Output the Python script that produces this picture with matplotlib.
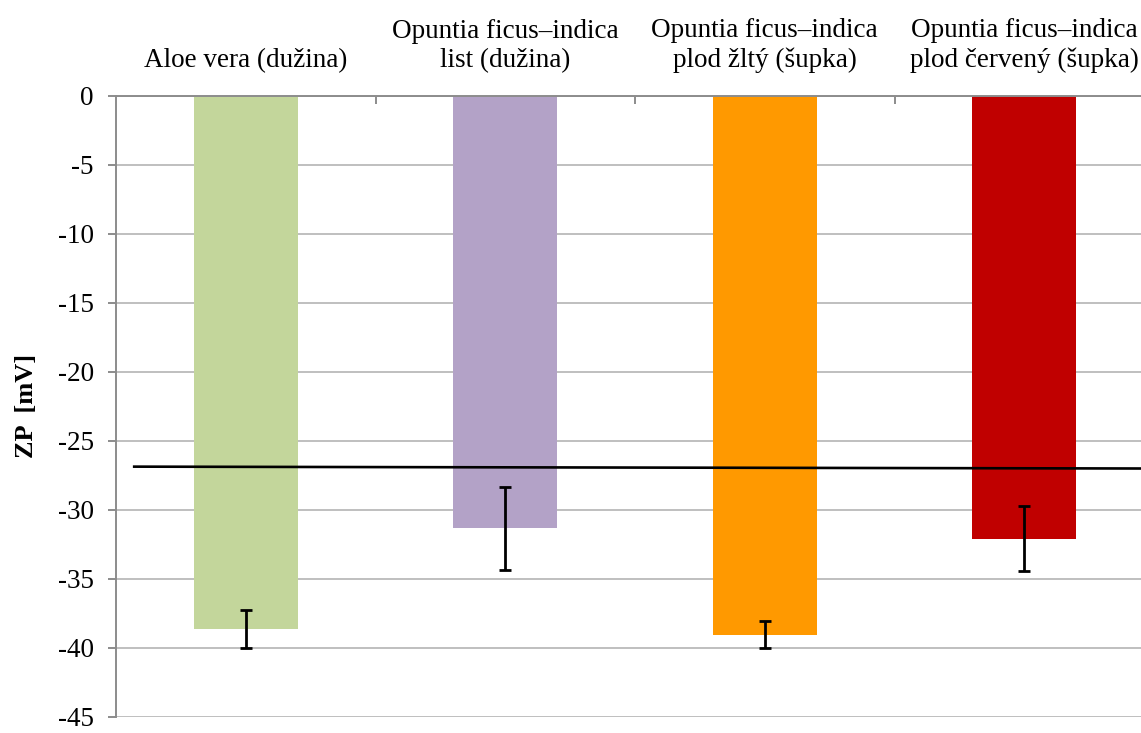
import matplotlib.pyplot as plt
import numpy as np

plt.rcParams['font.family'] = ['Liberation Serif', 'DejaVu Serif']
plt.rcParams['axes.unicode_minus'] = False

# data
categories = ["Aloe vera (dužina)",
              "Opuntia ficus\u2013indica\nlist (dužina)",
              "Opuntia ficus\u2013indica\nplod žltý (šupka)",
              "Opuntia ficus\u2013indica\nplod červený (šupka)"]
zp_values = [-38.65, -31.35, -39.05, -32.1]
zp_errors = [1.4, 3.0, 1.0, 2.35]
bar_colors = ["#C3D69B", "#B3A2C7", "#FF9900", "#C00000"]
trend_x = [-0.43, 3.6]
trend_y = [-26.88, -27.02]
y_ticks = [0, -5, -10, -15, -20, -25, -30, -35, -40, -45]

fig = plt.figure(figsize=(11.41, 7.33), dpi=100)
ax = fig.add_axes([0.1017, 0.0222, 0.9097, 0.8473])

x = np.arange(len(categories))
grid_col = "#BFBFBF"
axis_col = "#8C8C8C"

ax.bar(x, zp_values, width=0.4, color=bar_colors, zorder=2)
ax.errorbar(x, zp_values, yerr=zp_errors, fmt='none', ecolor='black',
            elinewidth=2.0, capsize=4.3, capthick=2.0, zorder=4)
ax.plot(trend_x, trend_y, color='black', lw=1.9, zorder=3)

ax.set_xlim(-0.5, 3.5)
ax.set_ylim(-45, 0)
ax.set_yticks(y_ticks)
ax.set_yticklabels([str(v) for v in y_ticks])
ax.yaxis.grid(True, color=grid_col, lw=1.4, zorder=0)
ax.set_axisbelow(True)

ax.tick_params(axis='y', direction='out', length=6, width=1.4, color=axis_col,
               labelsize=19.5, pad=10)
ax.xaxis.tick_top()
ax.set_xticks([0.5, 1.5, 2.5])
ax.set_xticklabels([])
ax.tick_params(axis='x', direction='in', length=6, width=1.4, color=axis_col)

for side in ['right', 'bottom']:
    ax.spines[side].set_visible(False)
ax.spines['left'].set_color(axis_col)
ax.spines['left'].set_linewidth(1.4)
ax.spines['top'].set_color(axis_col)
ax.spines['top'].set_linewidth(1.4)

for i, lab in enumerate(categories):
    ax.annotate(lab, xy=(i, 0), xycoords='data', xytext=(0, 16.5),
                textcoords='offset points', ha='center', va='bottom',
                fontsize=19.5, linespacing=1.2)

ax.set_ylabel("ZP  [mV]", fontsize=19, fontweight='bold', labelpad=14)

fig.savefig("out.png", dpi=100)
